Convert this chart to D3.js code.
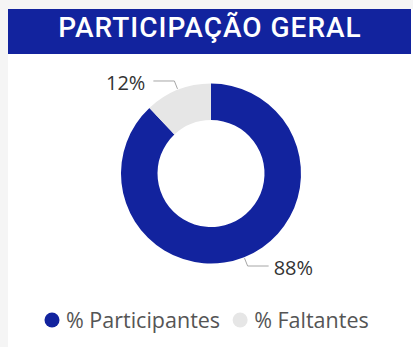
<!DOCTYPE html>
<html>
<head>
<meta charset="utf-8">
<script src="https://cdn.jsdelivr.net/npm/d3@7"></script>
<style>
  html, body { margin: 0; padding: 0; background: #f5f5f5; }
  svg { display: block; }
</style>
</head>
<body>
<svg id="chart" width="413" height="347"></svg>
<script>
// Donut data: share of participants vs. absentees
const categories = ["% Participantes", "% Faltantes"];
const values = [88, 12];
const labels = ["88%", "12%"];
const colors = ["#12239E", "#E6E6E6"];
const title = "PARTICIPAÇÃO GERAL";

const svg = d3.select("#chart");
const W = 413, H = 347;

// card background
svg.append("rect").attr("x", 8).attr("y", 9).attr("width", W - 8).attr("height", H - 9).attr("fill", "#ffffff");

// title banner
svg.append("rect").attr("x", 8).attr("y", 9).attr("width", 403).attr("height", 45).attr("fill", "#12239E");
svg.append("text")
  .attr("x", 210).attr("y", 37)
  .attr("text-anchor", "middle")
  .attr("fill", "#ffffff")
  .attr("font-family", "Roboto, 'Noto Sans', sans-serif")
  .attr("font-weight", 500)
  .attr("font-size", 28)
  .attr("letter-spacing", 1.0)
  .text(title);

const cx = 211, cy = 173.5, rOuter = 90, rInner = 53.5;
const g = svg.append("g").attr("transform", `translate(${cx},${cy})`);

const pie = d3.pie().sort(null).value(d => d)(values);
const arc = d3.arc().innerRadius(rInner).outerRadius(rOuter);

g.selectAll("path.slice")
  .data(pie)
  .enter().append("path")
  .attr("class", "slice")
  .attr("d", arc)
  .attr("fill", (d, i) => colors[i]);

// leader lines and value labels
const labelFont = "'Open Sans', 'Noto Sans', sans-serif";
pie.forEach((d, i) => {
  const mid = (d.startAngle + d.endAngle) / 2;
  const sx = Math.sin(mid), sy = -Math.cos(mid);
  const p0 = [sx * (rOuter + 1), sy * (rOuter + 1)];
  const p1 = [sx * (rOuter + 9.5), sy * (rOuter + 9.5)];
  const dir = sx >= 0 ? 1 : -1;
  const p2 = [p1[0] + dir * 21, p1[1]];
  g.append("polyline")
    .attr("points", [p0, p1, p2].map(p => p.join(",")).join(" "))
    .attr("fill", "none")
    .attr("stroke", "#a6a6a6")
    .attr("stroke-width", 1);
  g.append("text")
    .attr("x", p2[0] + dir * (dir > 0 ? 5 : 8))
    .attr("y", p2[1] + 2)
    .attr("dy", "0.35em")
    .attr("text-anchor", dir > 0 ? "start" : "end")
    .attr("fill", "#333333")
    .attr("font-family", labelFont)
    .attr("font-size", 20)
    .text(labels[i]);
});

// legend
const legend = svg.append("g").attr("transform", "translate(0,320)");
let lx = 52;
categories.forEach((c, i) => {
  legend.append("circle").attr("cx", lx).attr("cy", 0).attr("r", 7.5).attr("fill", colors[i]);
  const t = legend.append("text")
    .attr("x", lx + 14).attr("y", 0).attr("dy", "0.35em")
    .attr("fill", "#555555")
    .attr("font-family", labelFont)
    .attr("font-size", 21.5)
    .text(c);
  lx += 14 + t.node().getComputedTextLength() + 20;
});
</script>
</body>
</html>
